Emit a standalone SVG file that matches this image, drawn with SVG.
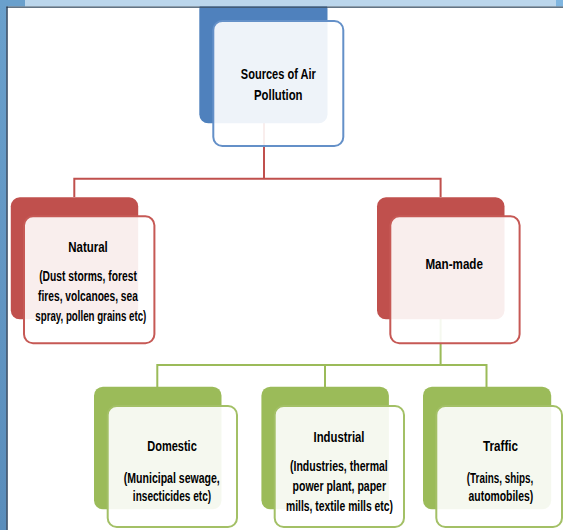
<svg xmlns="http://www.w3.org/2000/svg" width="563" height="530" viewBox="0 0 563 530">
<defs>
<style>
.txt{font-family:"Liberation Sans","DejaVu Sans",sans-serif;font-weight:bold;font-size:15px;fill:#000;text-anchor:middle}
.back{stroke:none}
.front{fill:#fff;fill-opacity:0.9;stroke-width:2}
.blue .back{fill:#4F81BD}
.blue .front{stroke:#6490C8}
.red .back{fill:#C0504D}
.red .front{stroke:#C65955}
.green .back{fill:#9BBB59}
.green .front{stroke:#A3C066}
.conn-red{stroke:#C0504D;stroke-width:2;fill:none}
.conn-green{stroke:#9BBB59;stroke-width:2;fill:none}
</style>
<linearGradient id="side" x1="0" y1="0" x2="0" y2="1">
<stop offset="0" stop-color="#6AA0CC"/>
<stop offset="1" stop-color="#5A8DBB"/>
</linearGradient>
</defs>
<rect x="0" y="0" width="563" height="530" fill="#fff"/>
<g id="connectors">
<path class="conn-red" d="M264 123 V178.7 M74.3 178.7 H440.6 M74.3 177.7 V197 M440.6 177.7 V197"/>
<path class="conn-green" d="M440.6 319 V365 M157.3 365 H486.5 M157.3 364 V387 M325 364 V387 M486.5 364 V387"/>
</g>
<g id="node-sources" class="blue">
<rect class="back" x="199.3" y="0" width="128.2" height="123.3" rx="9"/>
<rect class="front" x="213.3" y="21" width="130" height="125" rx="9"/>
<text class="txt" x="278.3" y="78.5" textLength="75" lengthAdjust="spacingAndGlyphs">Sources of Air</text>
<text class="txt" x="278.3" y="99.5" textLength="48.5" lengthAdjust="spacingAndGlyphs">Pollution</text>
</g>
<g id="node-natural" class="red">
<rect class="back" x="10.8" y="197.3" width="127.4" height="122" rx="9"/>
<rect class="front" x="24" y="216.3" width="130.4" height="127" rx="9"/>
<text class="txt" x="88" y="251.5" textLength="39.5" lengthAdjust="spacingAndGlyphs">Natural</text>
<text class="txt" x="88" y="280.5" textLength="97.7" lengthAdjust="spacingAndGlyphs">(Dust storms, forest</text>
<text class="txt" x="88" y="300.5" textLength="99.8" lengthAdjust="spacingAndGlyphs">fires, volcanoes, sea</text>
<text class="txt" x="90.8" y="320.5" textLength="111" lengthAdjust="spacingAndGlyphs">spray, pollen grains etc)</text>
</g>
<g id="node-manmade" class="red">
<rect class="back" x="377" y="197.3" width="127.5" height="122" rx="9"/>
<rect class="front" x="390.3" y="216.3" width="129.3" height="127" rx="9"/>
<text class="txt" x="454.2" y="268.5" textLength="57.5" lengthAdjust="spacingAndGlyphs">Man-made</text>
</g>
<g id="node-domestic" class="green">
<rect class="back" x="94" y="386.7" width="127.5" height="122.6" rx="9"/>
<rect class="front" x="107.7" y="406" width="129.3" height="121" rx="9"/>
<text class="txt" x="172" y="450.5" textLength="49.6" lengthAdjust="spacingAndGlyphs">Domestic</text>
<text class="txt" x="171.8" y="482.5" textLength="96" lengthAdjust="spacingAndGlyphs">(Municipal sewage,</text>
<text class="txt" x="172" y="500.5" textLength="78.3" lengthAdjust="spacingAndGlyphs">insecticides etc)</text>
</g>
<g id="node-industrial" class="green">
<rect class="back" x="261.4" y="386.7" width="127.5" height="122.6" rx="9"/>
<rect class="front" x="274.7" y="406" width="129.3" height="121" rx="9"/>
<text class="txt" x="339" y="441.5" textLength="51" lengthAdjust="spacingAndGlyphs">Industrial</text>
<text class="txt" x="338.9" y="470.5" textLength="97.8" lengthAdjust="spacingAndGlyphs">(Industries, thermal</text>
<text class="txt" x="339.3" y="490.5" textLength="93.4" lengthAdjust="spacingAndGlyphs">power plant, paper</text>
<text class="txt" x="339.5" y="510.5" textLength="107" lengthAdjust="spacingAndGlyphs">mills, textile mills etc)</text>
</g>
<g id="node-traffic" class="green">
<rect class="back" x="423" y="386.7" width="128.2" height="122.6" rx="9"/>
<rect class="front" x="436.3" y="406" width="125.7" height="121" rx="9"/>
<text class="txt" x="500.5" y="450.5" textLength="35" lengthAdjust="spacingAndGlyphs">Traffic</text>
<text class="txt" x="500" y="482.5" textLength="66.4" lengthAdjust="spacingAndGlyphs">(Trains, ships,</text>
<text class="txt" x="500.9" y="500.5" textLength="64.6" lengthAdjust="spacingAndGlyphs">automobiles)</text>
</g>
<g id="frame">
<rect x="0" y="0" width="6.5" height="530" fill="url(#side)"/>
<rect x="0" y="0" width="25" height="6.5" fill="#6AA0CC"/>
<rect x="25" y="0" width="531" height="6.5" fill="#BBD6EC"/>
<rect x="556" y="0" width="7" height="6.5" fill="#80B6E0"/>
<rect x="6.5" y="6.5" width="556.5" height="1.3" fill="#3E5366"/>
<rect x="6.3" y="6.5" width="1.4" height="523.5" fill="#1F3550"/>
</g>
</svg>
